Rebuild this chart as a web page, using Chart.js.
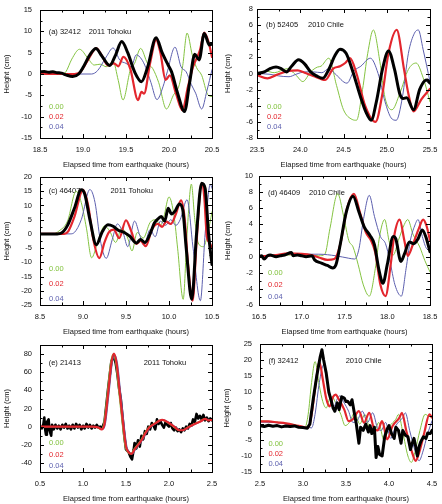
<!DOCTYPE html>
<html>
<head>
<meta charset="utf-8">
<script src="https://cdn.jsdelivr.net/npm/chart.js@4.4.1/dist/chart.umd.min.js"></script>
<style>
  html, body { margin:0; padding:0; background:#fff; }
  #wrap { position:relative; width:442px; height:504px; overflow:hidden; }
  canvas { position:absolute; }
</style>
</head>
<body>
<div id="wrap">
  <canvas id="pa" width="221" height="170" style="left:0;top:0"></canvas>
  <canvas id="pb" width="221" height="170" style="left:221px;top:0"></canvas>
  <canvas id="pc" width="221" height="170" style="left:0;top:167px"></canvas>
  <canvas id="pd" width="221" height="170" style="left:221px;top:167px"></canvas>
  <canvas id="pe" width="221" height="170" style="left:0;top:334px"></canvas>
  <canvas id="pf" width="221" height="170" style="left:221px;top:334px"></canvas>
</div>
<script>
document.addEventListener("DOMContentLoaded", function () {

const seriesNames = ["0.00", "0.02", "0.04"];

// (a) 32412 - 2011 Tohoku
const xTicksA = [18.5, 19.0, 19.5, 20.0, 20.5];
const yTicksA = [-15, -10, -5, 0, 5, 10, 15];
const aObs = [[18.5,0.5],[18.55,0.6],[18.6,0.4],[18.65,0.5],[18.7,0.3],[18.75,0.2],[18.8,-0.2],[18.88,-0.6],[18.95,0],[19.0,1.5],[19.08,4.5],[19.15,6.0],[19.22,4.2],[19.31,2.0],[19.38,4.5],[19.45,7.6],[19.52,5.0],[19.6,0.5],[19.68,-1.8],[19.75,1.5],[19.85,8.5],[19.92,5],[19.99,2.1],[20.03,0.5],[20.1,-4.5],[20.18,-8.8],[20.24,-2],[20.3,4.6],[20.35,3.3],[20.41,9.5],[20.47,6.8],[20.5,7.0]];
const aM00 = [[18.5,0],[18.75,0],[18.8,0.5],[18.87,3.5],[18.96,5.8],[19.06,3.6],[19.13,2.1],[19.2,2.3],[19.27,1.7],[19.35,2.9],[19.41,-1.5],[19.465,-6.1],[19.55,0.9],[19.6,2.5],[19.67,6.0],[19.75,2.5],[19.81,1.3],[19.88,-2],[19.97,-8.2],[20.05,-5.0],[20.12,-2.5],[20.16,2],[20.21,9.6],[20.27,4.5],[20.32,1.5],[20.38,-0.3],[20.45,-4.8],[20.5,-5.3]];
const aM02 = [[18.5,0],[18.9,0],[18.96,0.3],[19.05,3],[19.155,6.0],[19.22,4.3],[19.29,2.0],[19.36,2.5],[19.41,1.8],[19.47,4.0],[19.55,1.2],[19.64,-6.1],[19.68,-4.2],[19.71,-4.6],[19.78,2.5],[19.85,8.0],[19.9,5],[19.96,-1.4],[20.01,-0.3],[20.08,-4.5],[20.155,-8.5],[20.22,-3],[20.28,1.7],[20.36,5.6],[20.41,9.7],[20.46,7.5],[20.5,4.0]];
const aM04 = [[18.5,0],[19.1,0],[19.17,0.8],[19.27,4],[19.35,6.1],[19.43,3.2],[19.5,2.5],[19.56,1.7],[19.62,4.5],[19.68,3.5],[19.73,1.5],[19.79,-2],[19.86,-6.0],[19.93,-3],[19.98,0.5],[20.07,6.3],[20.14,1.7],[20.2,0.5],[20.26,-2.5],[20.31,-4.5],[20.38,-8.2],[20.44,-4],[20.5,1.0]];

// (b) 52405 - 2010 Chile
const xTicksB = [23.5, 24.0, 24.5, 25.0, 25.5];
const yTicksB = [-8, -6, -4, -2, 0, 2, 4, 6, 8];
const bObs = [[23.5,0],[23.585,0.2],[23.65,0.6],[23.72,0.8],[23.78,0.6],[23.84,0.2],[23.9,0.9],[23.98,1.7],[24.05,1.2],[24.12,0.2],[24.19,-0.3],[24.26,-0.6],[24.33,0.5],[24.4,2.2],[24.46,3.0],[24.53,2.5],[24.6,0.5],[24.7,-3],[24.76,-4.8],[24.82,-5.8],[24.88,-3.5],[24.95,0.5],[25.02,2.8],[25.09,0.5],[25.15,-2.5],[25.19,-3.1],[25.23,-3.0],[25.31,-4.5],[25.38,-2.0],[25.44,-0.9],[25.47,-0.8],[25.5,-1.2]];
const bM00 = [[23.5,0],[23.6,0.3],[23.7,0.1],[23.85,0.6],[23.95,-0.2],[24.03,-1.0],[24.12,0.2],[24.2,0.8],[24.24,0.9],[24.33,1.9],[24.42,-1.5],[24.5,-4.5],[24.6,-5.7],[24.65,-5.8],[24.72,-2],[24.78,2.5],[24.845,5.4],[24.92,1.5],[24.98,-3],[25.06,-4.5],[25.15,-2.5],[25.25,0.5],[25.34,1.3],[25.42,-0.5],[25.5,-3.5]];
const bM02 = [[23.5,-0.2],[23.62,-0.6],[23.72,-0.2],[23.85,0.3],[23.97,0.4],[24.05,0.1],[24.15,-0.3],[24.29,-0.8],[24.38,0.6],[24.46,0.9],[24.52,1.3],[24.575,1.9],[24.65,0],[24.75,-4],[24.87,-6.0],[24.95,-2.5],[25.02,2.5],[25.115,5.4],[25.2,0.5],[25.25,-2.5],[25.31,-4.7],[25.4,-3.2],[25.5,-1.9]];
const bM04 = [[23.5,0],[23.65,-0.1],[23.75,-0.3],[23.87,-0.4],[23.95,-0.1],[24.05,0.2],[24.15,0.2],[24.25,0.1],[24.33,0.6],[24.4,0],[24.54,-1.2],[24.62,0.3],[24.7,0.9],[24.81,1.9],[24.9,0],[24.98,-3.5],[25.05,-5.5],[25.11,-5.8],[25.18,-3],[25.25,2.5],[25.32,5.0],[25.365,5.4],[25.42,3],[25.5,-1.0]];

// (c) 46407 - 2011 Tohoku
const xTicksC = [8.5, 9.0, 9.5, 10.0, 10.5];
const yTicksC = [-25, -20, -15, -10, -5, 0, 5, 10, 15, 20];
const cObs = [[8.5,0],[8.7,0],[8.75,0.3],[8.82,3],[8.9,9],[8.98,15.5],[9.02,14],[9.08,5],[9.156,-3.8],[9.22,0.5],[9.29,3.2],[9.35,2.7],[9.41,1.3],[9.48,0.5],[9.55,-1],[9.62,-3.2],[9.67,-2],[9.72,-3],[9.78,0],[9.83,3.8],[9.88,5.5],[9.91,6.1],[9.95,4.5],[9.99,9.0],[10.03,7],[10.07,8],[10.12,10.5],[10.16,8.5],[10.2,-5],[10.265,-23],[10.32,0],[10.38,17.8],[10.42,16],[10.46,0],[10.5,-10.8]];
const cM00 = [[8.5,0],[8.65,0],[8.72,1],[8.82,4.5],[8.92,15],[8.98,11],[9.04,2],[9.1,-8.4],[9.17,-3],[9.25,2.8],[9.31,1],[9.38,-3],[9.45,2],[9.52,-1.5],[9.57,-6],[9.63,0.5],[9.7,-1.5],[9.78,4],[9.85,5],[9.9,3],[9.94,6],[10.0,13],[10.06,6],[10.1,-5],[10.165,-23],[10.21,0],[10.26,17.5],[10.3,5],[10.34,-3.2],[10.4,-4.5],[10.45,0],[10.5,7.8]];
const cM02 = [[8.5,0],[8.78,0],[8.83,1],[8.9,6],[9.0,15.5],[9.06,10],[9.12,-2],[9.19,-8.5],[9.25,-3],[9.3,0.5],[9.36,1.5],[9.42,-1.5],[9.5,4.8],[9.56,1],[9.62,-3.5],[9.67,-2.5],[9.73,-4.3],[9.8,1.5],[9.87,3.5],[9.92,2.5],[9.97,4.3],[10.02,3.5],[10.08,7],[10.14,11.8],[10.18,6],[10.22,-10],[10.275,-23.5],[10.32,-3],[10.38,17.8],[10.41,13],[10.44,-1],[10.47,-3],[10.5,-5]];
const cM04 = [[8.5,0],[8.85,0],[8.9,0.5],[8.98,5],[9.08,15.6],[9.14,11],[9.2,-2],[9.27,-8.6],[9.34,-2],[9.4,3.5],[9.47,0],[9.52,-4.5],[9.6,4.5],[9.66,-0.5],[9.71,-4],[9.78,1.5],[9.84,-1],[9.9,4.5],[9.96,3],[10.02,5],[10.08,3],[10.13,5],[10.21,12],[10.28,-5],[10.365,-23.5],[10.42,0],[10.48,17.5],[10.5,16]];

// (d) 46409 - 2010 Chile
const xTicksD = [16.5, 17.0, 17.5, 18.0, 18.5];
const yTicksD = [-6, -4, -2, 0, 2, 4, 6, 8, 10];
const dObs = [[16.5,0],[16.53,0.1],[16.56,-0.3],[16.6,0.1],[16.63,0.2],[16.7,0],[16.75,0.1],[16.8,0.2],[16.88,0.5],[16.9,0.1],[16.95,0.2],[17.0,0.1],[17.05,0],[17.12,0.1],[17.15,-0.4],[17.23,-0.8],[17.3,-1.1],[17.36,-1.4],[17.4,-1.0],[17.45,1.5],[17.52,5.5],[17.6,7.5],[17.67,5.5],[17.73,3.7],[17.8,2.6],[17.85,1.5],[17.9,-1.5],[17.95,-3.3],[18.0,-1.0],[18.07,2.5],[18.1,2.2],[18.16,-0.6],[18.2,0.3],[18.26,1.8],[18.31,1.6],[18.36,2.2],[18.41,3.3],[18.45,2.5],[18.5,0.6]];
const dM00 = [[16.5,0],[16.7,0.2],[17.0,0.2],[17.2,0.1],[17.27,0.3],[17.33,3.5],[17.42,7.8],[17.49,5],[17.55,2],[17.6,1.2],[17.66,-1],[17.72,-3.5],[17.79,-4.9],[17.86,-1.5],[17.91,2.5],[17.97,4.6],[18.02,2],[18.07,0.2],[18.13,2],[18.2,4],[18.24,4.6],[18.3,2.8],[18.38,1.2],[18.44,-0.5],[18.5,-1.9]];
const dM02 = [[16.5,0],[16.7,0.2],[16.84,0.4],[17.0,0.35],[17.11,0.2],[17.2,-0.1],[17.3,-0.4],[17.38,-0.3],[17.45,1.5],[17.53,6],[17.61,7.8],[17.68,5.5],[17.75,3],[17.81,2.0],[17.86,0.5],[17.92,-3.5],[17.98,-4.9],[18.04,-1],[18.08,2.5],[18.145,4.6],[18.2,2],[18.24,0.1],[18.3,1.5],[18.37,3.5],[18.42,4.6],[18.46,3.8],[18.5,2.0]];
const dM04 = [[16.5,0],[16.7,0.2],[17.0,0.3],[17.2,0.3],[17.4,0.1],[17.55,-0.2],[17.62,-0.3],[17.67,1],[17.72,4.5],[17.79,7.6],[17.85,5],[17.92,2.5],[17.98,1.6],[18.03,-0.5],[18.09,-3.5],[18.165,-4.9],[18.22,-1.5],[18.27,2],[18.32,3.8],[18.36,4.6],[18.41,2.5],[18.46,1],[18.5,0.8]];

// (e) 21413 - 2011 Tohoku
const xTicksE = [0.5, 1.0, 1.5, 2.0, 2.5];
const yTicksE = [-40, -20, 0, 20, 40, 60, 80];
const eObs = [[0.5,0],[0.52,-2],[0.54,3],[0.55,10],[0.56,-3],[0.57,-9],[0.58,5],[0.6,8],[0.61,-4],[0.63,-10],[0.64,2],[0.66,-3],[0.68,2],[0.7,-2],[0.72,1],[0.74,-3],[0.76,2],[0.78,-1],[0.8,3],[0.82,-2],[0.84,1],[0.86,-3],[0.88,2],[0.9,-2],[0.92,3],[0.94,-1],[0.96,2],[0.98,-3],[1.0,1],[1.02,-2],[1.04,3],[1.06,-1],[1.08,2],[1.1,-2],[1.12,1],[1.14,-1],[1.16,2],[1.18,-1],[1.2,0],[1.22,-2],[1.25,5],[1.29,40],[1.33,72],[1.36,78],[1.38,70],[1.4,58],[1.42,42],[1.44,30],[1.46,10],[1.48,-10],[1.5,-25],[1.53,-28],[1.55,-33],[1.57,-36],[1.59,-25],[1.6,-18],[1.62,-24],[1.64,-15],[1.66,-22],[1.68,-10],[1.7,-14],[1.72,-5],[1.74,-8],[1.76,0],[1.78,-3],[1.8,4],[1.82,1],[1.84,-3],[1.86,8],[1.88,3],[1.9,6],[1.92,2],[1.94,-1],[1.96,5],[1.98,2],[2.0,0],[2.02,4],[2.04,-2],[2.06,-4],[2.08,-1],[2.1,-5],[2.12,-3],[2.14,-6],[2.16,-2],[2.18,-4],[2.2,0],[2.22,-2],[2.24,3],[2.26,1],[2.28,8],[2.3,5],[2.32,14],[2.34,9],[2.36,12],[2.38,8],[2.4,13],[2.42,7],[2.44,10],[2.46,6],[2.48,9],[2.5,7]];
const eM00 = [[0.5,0],[1.1,0],[1.17,-1],[1.205,-3],[1.24,3],[1.28,35],[1.32,70],[1.35,80],[1.38,70],[1.42,35],[1.46,0],[1.49,-22],[1.52,-28],[1.555,-30],[1.59,-25],[1.67,-15],[1.71,-8],[1.76,-1],[1.82,3],[1.91,7.5],[1.99,4],[2.05,0],[2.11,-4],[2.15,-4],[2.21,-1],[2.27,2],[2.36,6],[2.41,8.5],[2.45,7],[2.5,7.5]];
const eM02 = [[0.5,0],[1.1,0],[1.18,-1],[1.215,-3],[1.25,3],[1.29,35],[1.33,70],[1.36,80.5],[1.39,70],[1.43,35],[1.47,0],[1.5,-22],[1.53,-28],[1.565,-30],[1.6,-25],[1.68,-15],[1.72,-8],[1.77,-1],[1.83,3],[1.92,7.5],[2.0,4],[2.06,0],[2.12,-4],[2.16,-4],[2.22,-1],[2.28,2],[2.37,6],[2.42,8.5],[2.46,7],[2.5,7.5]];
const eM04 = [[0.5,0],[1.1,0],[1.19,-1],[1.225,-3],[1.26,3],[1.3,35],[1.34,70],[1.37,79],[1.4,70],[1.44,35],[1.48,0],[1.51,-22],[1.54,-28],[1.575,-30],[1.61,-25],[1.69,-15],[1.73,-8],[1.78,-1],[1.84,3],[1.93,7.5],[2.01,4],[2.07,0],[2.13,-4],[2.17,-4],[2.23,-1],[2.29,2],[2.38,6],[2.43,8.5],[2.47,7],[2.5,7]];

// (f) 32412 - 2010 Chile
const xTicksF = [2.5, 3.0, 3.5, 4.0, 4.5];
const yTicksF = [-15, -10, -5, 0, 5, 10, 15, 20, 25];
const fObs = [[2.5,-0.5],[2.55,-0.8],[2.6,-0.4],[2.65,-0.7],[2.7,-0.5],[2.75,-0.9],[2.8,-0.6],[2.85,-0.8],[2.9,-0.6],[2.95,-1.0],[3.0,-1.1],[3.05,-1.3],[3.08,0],[3.12,8],[3.16,15],[3.2,21],[3.22,23.2],[3.24,20],[3.27,15.9],[3.3,10],[3.33,7.1],[3.35,5],[3.37,4],[3.4,6.6],[3.42,4.5],[3.45,8.5],[3.48,8.1],[3.5,7],[3.52,7.1],[3.55,6],[3.57,7.6],[3.6,3],[3.62,0],[3.65,-6],[3.67,-1],[3.7,-2],[3.73,0],[3.76,-2.5],[3.78,-0.5],[3.8,-3],[3.83,-1],[3.85,-10.5],[3.87,-7],[3.89,-9.5],[3.92,-10],[3.95,-4],[3.98,-1.5],[4.0,-0.5],[4.03,-3],[4.06,-4.5],[4.08,-1],[4.11,-2],[4.14,-6],[4.16,-2],[4.19,-3.5],[4.22,-4],[4.25,-8],[4.27,-6],[4.29,-4.5],[4.31,-7],[4.33,-10],[4.35,-7],[4.37,-5.5],[4.4,-4],[4.43,-4.5],[4.45,-2.8],[4.48,-3],[4.5,-2]];
const fM00 = [[2.5,1.0],[2.7,0.6],[2.9,-0.2],[3.0,-1.0],[3.02,-1.2],[3.06,3],[3.1,13],[3.14,19.5],[3.19,12],[3.23,7],[3.27,5],[3.31,8],[3.34,8.5],[3.38,6.5],[3.44,3],[3.49,-0.5],[3.54,0.5],[3.6,3.5],[3.66,0],[3.72,3],[3.78,-2],[3.83,-2.5],[3.88,0.5],[3.94,-5],[4.0,-1],[4.08,1.5],[4.11,3],[4.16,-2.5],[4.22,-10],[4.26,-12],[4.3,-9],[4.36,-2],[4.42,3],[4.46,2.5],[4.5,2.0]];
const fM02 = [[2.5,0.8],[2.6,0.8],[2.7,0.5],[2.8,0.2],[2.9,-0.3],[3.0,-0.9],[3.06,-1.2],[3.1,3],[3.15,13],[3.19,19.5],[3.23,14],[3.27,8],[3.31,5.5],[3.35,8.5],[3.38,9.2],[3.42,7.5],[3.48,4.5],[3.53,0.9],[3.58,1.5],[3.65,4],[3.71,0.4],[3.77,3.5],[3.83,-1.7],[3.87,-2],[3.92,0.9],[3.98,-4.8],[4.04,-0.7],[4.12,1.9],[4.15,3.5],[4.2,-2],[4.27,-9],[4.31,-11.5],[4.35,-9],[4.41,-2.8],[4.47,3],[4.5,2.0]];
const fM04 = [[2.5,0.6],[2.7,0.4],[2.9,-0.4],[3.0,-0.9],[3.1,-1.2],[3.14,3],[3.19,13],[3.24,18.5],[3.28,13],[3.32,7.5],[3.36,5.5],[3.4,8],[3.43,8.8],[3.47,7],[3.53,4],[3.58,0.5],[3.63,1],[3.69,4],[3.75,0.5],[3.81,3.5],[3.87,-1.5],[3.91,-2],[3.96,0.5],[4.02,-4.5],[4.08,-0.5],[4.16,2],[4.19,3.5],[4.24,-2],[4.31,-9],[4.35,-11.5],[4.39,-9],[4.45,-3],[4.5,1.0]];

const GREEN = "#84c341", RED = "#e3262d", BLUE = "#5c5fae", BLACK = "#000000";
const FONT = { family: "'Liberation Sans', Arial, sans-serif", size: 7.5 };
const TXT = "#111";

// frame box with inward ticks on all four sides
const frameTicks = {
    id: "frameTicks",
    afterDatasetsDraw(chart, args, o){
        const ctx = chart.ctx, a = chart.chartArea, x = chart.scales.x, y = chart.scales.y;
        ctx.save();
        ctx.strokeStyle = "#000";
        ctx.lineWidth = 1;
        ctx.beginPath();
        const nx = Math.round((x.max - x.min) / o.xMinor);
        for(let i = 0; i <= nx; i++){
            const v = x.min + i * o.xMinor;
            const px = Math.round(x.getPixelForValue(v)) + 0.5;
            const q = v / o.xMajor;
            const len = Math.abs(q - Math.round(q)) < 1e-6 ? 4 : 2.5;
            ctx.moveTo(px, a.bottom); ctx.lineTo(px, a.bottom - len);
            ctx.moveTo(px, a.top); ctx.lineTo(px, a.top + len);
        }
        const ny = Math.round((y.max - y.min) / o.yMinor);
        for(let i = 0; i <= ny; i++){
            const v = y.min + i * o.yMinor;
            const py = Math.round(y.getPixelForValue(v)) + 0.5;
            const q = v / o.yMajor;
            const len = Math.abs(q - Math.round(q)) < 1e-6 ? 4 : 2.5;
            ctx.moveTo(a.left, py); ctx.lineTo(a.left + len, py);
            ctx.moveTo(a.right, py); ctx.lineTo(a.right - len, py);
        }
        ctx.stroke();
        ctx.strokeRect(Math.round(a.left) + 0.5, Math.round(a.top) + 0.5,
                       Math.round(a.right - a.left), Math.round(a.bottom - a.top));
        ctx.restore();
    }
};

// panel label and the 0.00 / 0.02 / 0.04 key
const panelText = {
    id: "panelText",
    beforeDatasetsDraw(chart, args, o){
        const ctx = chart.ctx, a = chart.chartArea;
        ctx.save();
        ctx.font = "7.5px 'Liberation Sans', Arial, sans-serif";
        ctx.textBaseline = "middle";
        ctx.textAlign = "left";
        ctx.fillStyle = TXT;
        ctx.fillText(o.label, a.left + o.labelX, a.top + o.labelY);
        ctx.fillText(o.event, a.left + o.eventX, a.top + o.labelY);
        const cols = [GREEN, RED, BLUE];
        seriesNames.forEach(function(s, i){
            ctx.fillStyle = cols[i];
            ctx.fillText(s, a.left + o.keyX, a.top + o.keyY[i]);
        });
        ctx.restore();
    }
};

function ds(pts, color, width, smooth, order){
    return {
        data: pts.map(p => ({x: p[0], y: p[1]})),
        borderColor: color,
        borderWidth: width,
        pointRadius: 0,
        fill: false,
        tension: 0,
        cubicInterpolationMode: smooth ? "monotone" : "default",
        borderJoinStyle: "round",
        borderCapStyle: "round",
        order: order
    };
}

function panel(id, p){
    new Chart(document.getElementById(id), {
        type: "line",
        data: { datasets: p.datasets },
        options: {
            responsive: false,
            animation: false,
            events: [],
            layout: { padding: { top: p.padTop, right: p.padRight, left: 0, bottom: 0 } },
            plugins: {
                legend: { display: false },
                tooltip: { enabled: false },
                frameTicks: { xMajor: 0.5, xMinor: 0.25, yMajor: p.yMajor, yMinor: p.yMinor },
                panelText: p.text
            },
            scales: {
                x: {
                    type: "linear", min: p.xTicks[0], max: p.xTicks[p.xTicks.length - 1],
                    grid: { display: false, drawTicks: false },
                    border: { display: false },
                    afterBuildTicks: s => { s.ticks = p.xTicks.map(v => ({ value: v })); },
                    afterFit: s => { s.height = 32; s.paddingLeft = 0; s.paddingRight = 0; },
                    ticks: { font: FONT, color: TXT, padding: 7, maxRotation: 0, autoSkip: false,
                             callback: v => Number(v).toFixed(1) },
                    title: { display: true, text: "Elapsed time from earthquake (hours)",
                             font: FONT, color: TXT, padding: { top: 0, bottom: 0.5 } }
                },
                y: {
                    type: "linear", min: p.yMin, max: p.yMax,
                    grid: { display: false, drawTicks: false },
                    border: { display: false },
                    afterBuildTicks: s => { s.ticks = p.yTicks.map(v => ({ value: v })); },
                    afterFit: s => { s.width = p.yW; s.paddingTop = 0; s.paddingBottom = 0; },
                    ticks: { font: FONT, color: TXT, padding: p.yPad, autoSkip: false,
                             callback: v => String(v) },
                    title: { display: true, text: "Height (cm)", font: FONT, color: TXT,
                             padding: { top: p.yTitlePad, bottom: 0 } }
                }
            }
        },
        plugins: [frameTicks, panelText]
    });
}

panel("pa", {
    xTicks: xTicksA, yTicks: yTicksA, yMin: -15, yMax: 15, yMajor: 5, yMinor: 2.5,
    yW: 40, yPad: 8, yTitlePad: 2.5, padTop: 10, padRight: 9,
    datasets: [ds(aObs, BLACK, 3, true, 0), ds(aM02, RED, 2.2, true, 1), ds(aM04, BLUE, 1, true, 2), ds(aM00, GREEN, 1, true, 3)],
    text: { label: "(a) 32412", event: "2011 Tohoku", labelX: 8.7, eventX: 48.7, labelY: 22, keyX: 9, keyY: [97, 107, 117.3] }
});

panel("pb", {
    xTicks: xTicksB, yTicks: yTicksB, yMin: -8, yMax: 8, yMajor: 2, yMinor: 1,
    yW: 36, yPad: 4, yTitlePad: 2.5, padTop: 9, padRight: 12,
    datasets: [ds(bObs, BLACK, 3, true, 0), ds(bM02, RED, 2.2, true, 1), ds(bM04, BLUE, 1, true, 2), ds(bM00, GREEN, 1, true, 3)],
    text: { label: "(b) 52405", event: "2010 Chile", labelX: 9, eventX: 51, labelY: 16, keyX: 10, keyY: [97.7, 107.7, 117.7] }
});

panel("pc", {
    xTicks: xTicksC, yTicks: yTicksC, yMin: -25, yMax: 20, yMajor: 5, yMinor: 2.5,
    yW: 40, yPad: 8, yTitlePad: 2.5, padTop: 10, padRight: 9,
    datasets: [ds(cObs, BLACK, 3, true, 0), ds(cM02, RED, 2.2, true, 1), ds(cM04, BLUE, 1, true, 2), ds(cM00, GREEN, 1, true, 3)],
    text: { label: "(c) 46407", event: "2011 Tohoku", labelX: 8.7, eventX: 70.4, labelY: 14, keyX: 9, keyY: [92.3, 107.3, 121.6] }
});

panel("pd", {
    xTicks: xTicksD, yTicks: yTicksD, yMin: -6, yMax: 10, yMajor: 2, yMinor: 1,
    yW: 38, yPad: 6, yTitlePad: 2.5, padTop: 9, padRight: 12,
    datasets: [ds(dObs, BLACK, 3, true, 0), ds(dM02, RED, 2.2, true, 1), ds(dM04, BLUE, 1, true, 2), ds(dM00, GREEN, 1, true, 3)],
    text: { label: "(d) 46409", event: "2010 Chile", labelX: 9, eventX: 50, labelY: 16.7, keyX: 9, keyY: [96.7, 109, 121.3] }
});

panel("pe", {
    xTicks: xTicksE, yTicks: yTicksE, yMin: -50, yMax: 90, yMajor: 20, yMinor: 10,
    yW: 40, yPad: 8, yTitlePad: 2.5, padTop: 11, padRight: 9,
    datasets: [ds(eM02, RED, 2.2, true, 0), ds(eM04, BLUE, 1.2, true, 1), ds(eM00, GREEN, 1.2, true, 2), ds(eObs, BLACK, 2.6, false, 3)],
    text: { label: "(e) 21413", event: "2011 Tohoku", labelX: 8.7, eventX: 103.7, labelY: 18, keyX: 9, keyY: [98.4, 110.1, 120.8] }
});

panel("pf", {
    xTicks: xTicksF, yTicks: yTicksF, yMin: -15, yMax: 25, yMajor: 5, yMinor: 2.5,
    yW: 39, yPad: 8, yTitlePad: 1.5, padTop: 10, padRight: 10,
    datasets: [ds(fObs, BLACK, 3, false, 0), ds(fM02, RED, 2.2, true, 1), ds(fM04, BLUE, 1, true, 2), ds(fM00, GREEN, 1, true, 3)],
    text: { label: "(f) 32412", event: "2010 Chile", labelX: 8.4, eventX: 85.7, labelY: 16.7, keyX: 8.4, keyY: [100, 109.7, 119.7] }
});

});
</script>
</body>
</html>
